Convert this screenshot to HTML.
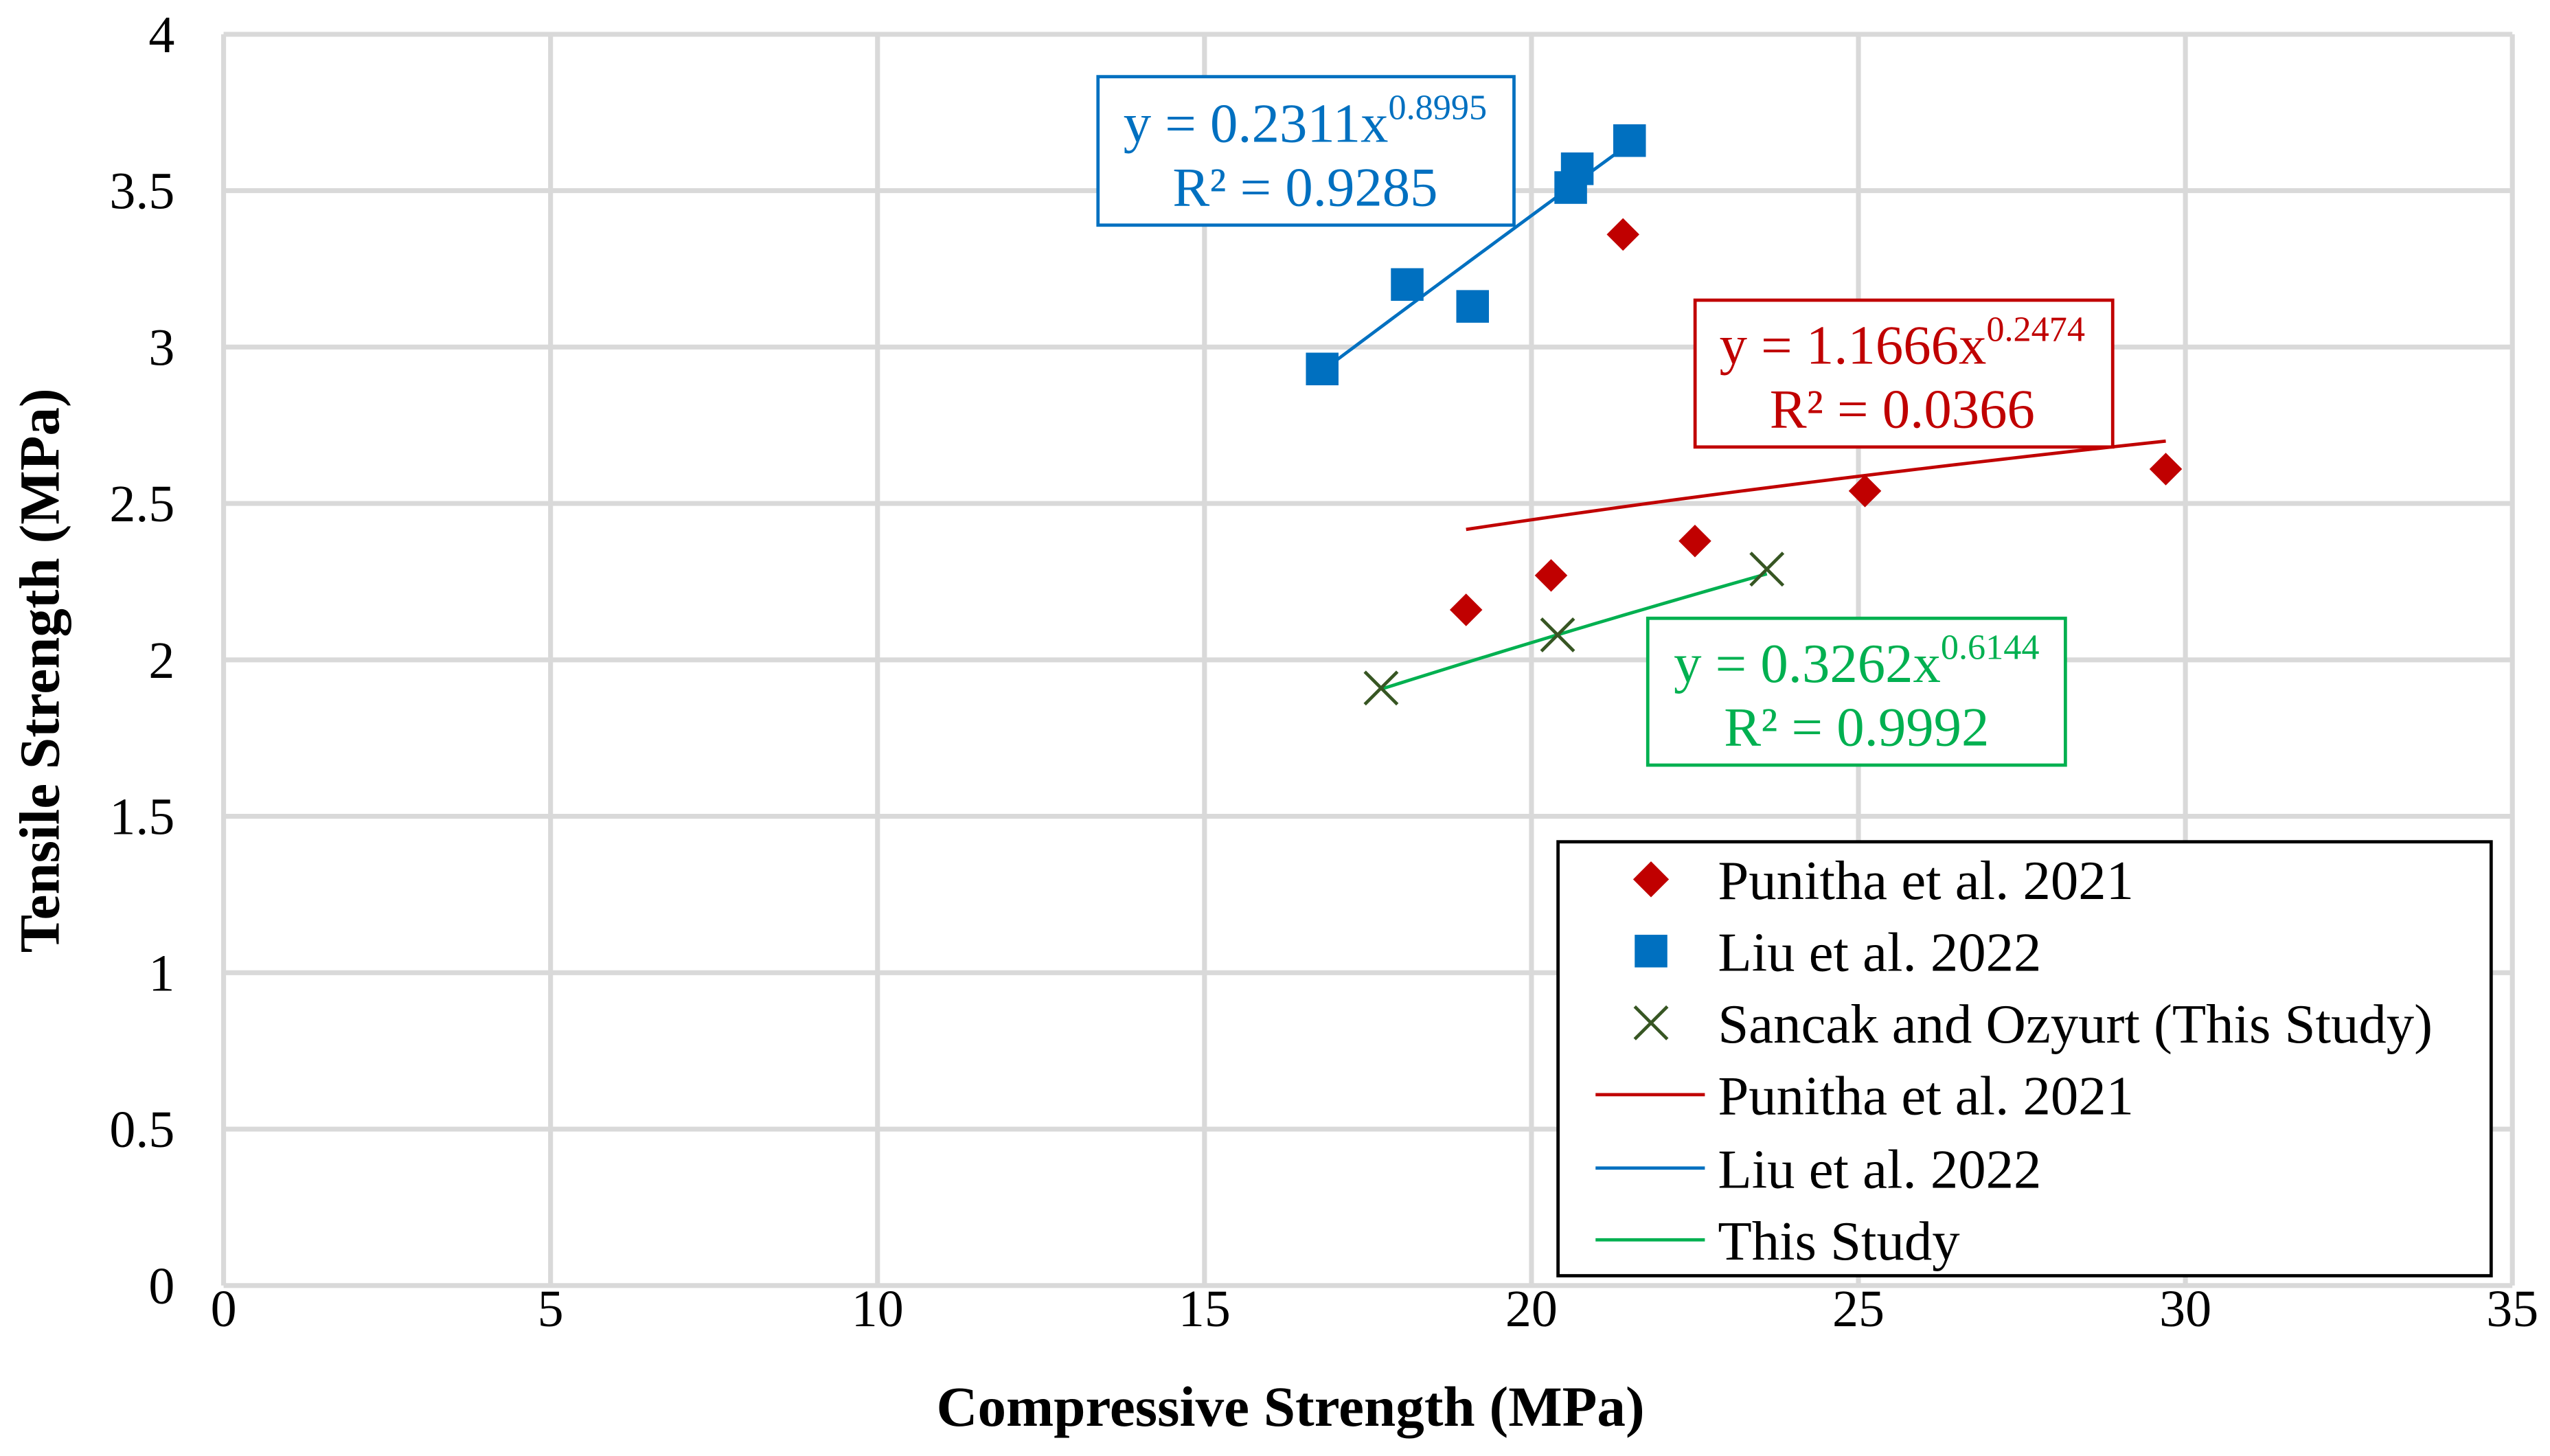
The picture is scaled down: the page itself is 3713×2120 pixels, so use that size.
<!DOCTYPE html>
<html><head><meta charset="utf-8"><style>
html,body{margin:0;padding:0;background:#fff;}
svg{display:block;font-family:"Liberation Serif",serif;}
</style></head><body>
<svg id="chart" width="3713" height="2120" viewBox="0 0 1563 892.5">
<rect width="1563" height="892.5" fill="#fff"/>
<g id="grid"></g>
<g id="ticks"></g>
<g id="series"></g>
<text x="791" y="874" text-anchor="middle" font-size="35" font-weight="bold">Compressive Strength (MPa)</text>
<text transform="translate(36,411) rotate(-90)" text-anchor="middle" font-size="35" font-weight="bold">Tensile Strength (MPa)</text>
<g>
<rect x="673" y="47" width="255" height="91" fill="#fff" stroke="#0070c0" stroke-width="2"/>
<text x="800" y="87" text-anchor="middle" font-size="34" fill="#0070c0">y = 0.2311x<tspan font-size="22" dy="-14">0.8995</tspan></text>
<text x="800" y="126" text-anchor="middle" font-size="34" fill="#0070c0">R² = 0.9285</text>
</g>
<g>
<rect x="1039" y="184" width="256" height="90" fill="#fff" stroke="#c00000" stroke-width="2"/>
<text x="1166" y="223" text-anchor="middle" font-size="34" fill="#c00000">y = 1.1666x<tspan font-size="22" dy="-14">0.2474</tspan></text>
<text x="1166" y="262" text-anchor="middle" font-size="34" fill="#c00000">R² = 0.0366</text>
</g>
<g>
<rect x="1010" y="379" width="256" height="90" fill="#fff" stroke="#00b050" stroke-width="2"/>
<text x="1138" y="418" text-anchor="middle" font-size="34" fill="#00b050">y = 0.3262x<tspan font-size="22" dy="-14">0.6144</tspan></text>
<text x="1138" y="457" text-anchor="middle" font-size="34" fill="#00b050">R² = 0.9992</text>
</g>
<g>
<rect x="955" y="516" width="572" height="266" fill="#fff" stroke="#000" stroke-width="2"/>
<g><polygon points="1012,528 1023,539 1012,550 1001,539" fill="#c00000"/><text x="1053" y="551" font-size="34">Punitha et al. 2021</text></g>
<g><rect x="1002" y="573" width="20" height="20" fill="#0070c0"/><text x="1053" y="595" font-size="34">Liu et al. 2022</text></g>
<g><path d="M1002,617 L1022,637 M1022,617 L1002,637" stroke="#375623" stroke-width="2"/><text x="1053" y="639" font-size="34">Sancak and Ozyurt (This Study)</text></g>
<g><line x1="978" y1="671" x2="1045" y2="671" stroke="#c00000" stroke-width="2"/><text x="1053" y="683" font-size="34">Punitha et al. 2021</text></g>
<g><line x1="978" y1="716" x2="1045" y2="716" stroke="#0070c0" stroke-width="2"/><text x="1053" y="728" font-size="34">Liu et al. 2022</text></g>
<g><line x1="978" y1="760" x2="1045" y2="760" stroke="#00b050" stroke-width="2"/><text x="1053" y="772" font-size="34">This Study</text></g>
</g>
</svg>
<script>
const xTicks = [0,5,10,15,20,25,30,35];
const yTicks = [0,0.5,1,1.5,2,2.5,3,3.5,4];
const yTickLabels = ["0","0.5","1","1.5","2","2.5","3","3.5","4"];
const punithaX = [19.0,20.3,22.5,25.1,29.7,21.4];
const punithaY = [2.16,2.27,2.38,2.54,2.61,3.36];
const liuX = [16.8,18.1,19.1,20.6,20.7,21.5];
const liuY = [2.93,3.20,3.13,3.51,3.57,3.66];
const studyX = [17.7,20.4,23.6];
const studyY = [1.91,2.08,2.29];
const punithaFit = [1.1666,0.2474];
const liuFit = [0.2311,0.8995];
const studyFit = [0.3262,0.6144];

const NS="http://www.w3.org/2000/svg";
const X0=137,X1=1540,Y0=788,Y1=21;
const sx=v=>X0+(v-0)/(35-0)*(X1-X0);
const sy=v=>Y0-(v-0)/(4-0)*(Y0-Y1);
function mk(tag,attrs,parent){const e=document.createElementNS(NS,tag);for(const k in attrs)e.setAttribute(k,attrs[k]);parent.appendChild(e);return e;}
const grid=document.getElementById('grid'),ticks=document.getElementById('ticks'),series=document.getElementById('series');
xTicks.forEach(t=>{const l=mk('line',{x1:sx(t),x2:sx(t),y1:Y1,y2:Y0,stroke:'#d9d9d9','stroke-width':3},grid);


const tx=mk('text',{x:sx(t),y:Y0+25,'text-anchor':'middle','font-size':32},ticks);tx.textContent=t;

});
yTicks.forEach((t,i)=>{const l=mk('line',{x1:X0,x2:X1,y1:sy(t),y2:sy(t),stroke:'#d9d9d9','stroke-width':3},grid);


const tx=mk('text',{x:107,y:sy(t)+11,'text-anchor':'end','font-size':32},ticks);tx.textContent=yTickLabels[i];

});
function trend(xs,fit,color,name){const a=Math.min(...xs),b=Math.max(...xs);let d='';for(let i=0;i<=40;i++){const x=a+(b-a)*i/40;d+=(i?'L':'M')+sx(x).toFixed(2)+','+sy(fit[0]*Math.pow(x,fit[1])).toFixed(2);}
const p=mk('path',{d:d,fill:'none',stroke:color,'stroke-width':2},series);

}
trend(punithaX,punithaFit,'#c00000','trendline-punitha');
trend(liuX,liuFit,'#0070c0','trendline-liu');
trend(studyX,studyFit,'#00b050','trendline-this-study');
punithaX.forEach((x,i)=>{const cx=sx(x),cy=sy(punithaY[i]);const p=mk('polygon',{points:`${cx},${cy-10} ${cx+10},${cy} ${cx},${cy+10} ${cx-10},${cy}`,fill:'#c00000'},series);

});
liuX.forEach((x,i)=>{const cx=sx(x),cy=sy(liuY[i]);const p=mk('rect',{x:cx-10,y:cy-10,width:20,height:20,fill:'#0070c0'},series);

});
studyX.forEach((x,i)=>{const cx=sx(x),cy=sy(studyY[i]);const p=mk('path',{d:`M${cx-10},${cy-10}L${cx+10},${cy+10}M${cx+10},${cy-10}L${cx-10},${cy+10}`,stroke:'#375623','stroke-width':2},series);

});
</script>
</body></html>
